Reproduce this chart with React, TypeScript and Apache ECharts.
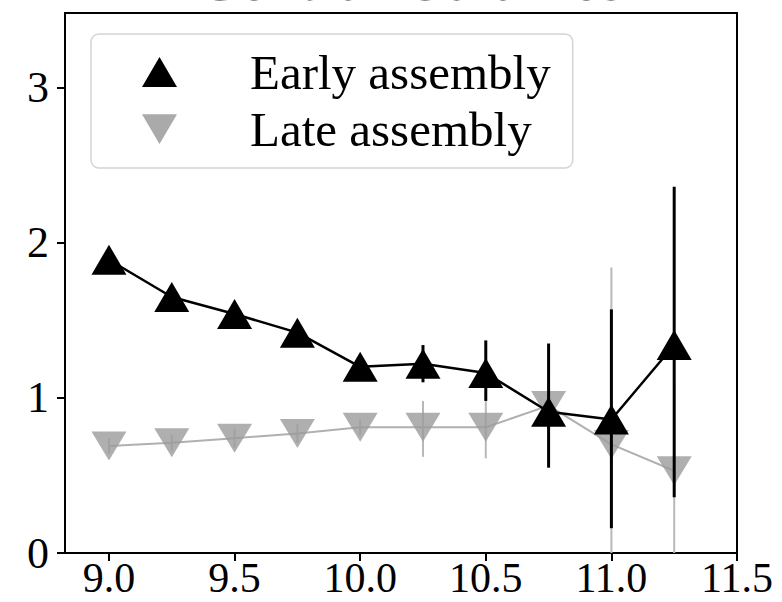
import React, { useEffect, useRef } from "react";
import * as echarts from "echarts";

const xValues = [9.0, 9.25, 9.5, 9.75, 10.0, 10.25, 10.5, 10.75, 11.0, 11.25];
const earlyY = [1.89, 1.65, 1.54, 1.42, 1.20, 1.22, 1.16, 0.91, 0.86, 1.34];
const earlyLo = [1.86, 1.62, 1.51, 1.39, 1.17, 1.10, 0.98, 0.55, 0.16, 0.36];
const earlyHi = [1.92, 1.68, 1.57, 1.45, 1.23, 1.34, 1.37, 1.35, 1.57, 2.36];
const lateY = [0.69, 0.71, 0.74, 0.77, 0.81, 0.81, 0.81, 0.95, 0.70, 0.53];
const lateLo = [0.64, 0.66, 0.68, 0.71, 0.76, 0.62, 0.61, 0.80, 0.0, 0.0];
const lateHi = [0.74, 0.76, 0.80, 0.83, 0.86, 0.98, 0.98, 1.10, 1.84, 1.10];
const xTicks = [9.0, 9.5, 10.0, 10.5, 11.0, 11.5];
const yTicks = [0, 1, 2, 3];
const titleText = "Central Galaxies";
const seriesNames = ["Early assembly", "Late assembly"];

const FONT = "'Liberation Serif', serif";
const DOWN_TRI = "path://M0,0 L2,0 L1,1.7 Z";

function errSeries(lo: number[], hi: number[], color: string, width: number, z: number) {
  return {
    type: "custom",
    silent: true,
    z,
    data: xValues.map((x, i) => [x, lo[i], hi[i]]),
    encode: { x: 0, y: [1, 2] },
    renderItem: (params: any, api: any) => {
      const p1 = api.coord([api.value(0), api.value(1)]);
      const p2 = api.coord([api.value(0), api.value(2)]);
      return {
        type: "line",
        shape: { x1: p1[0], y1: p1[1], x2: p2[0], y2: p2[1] },
        style: { stroke: color, lineWidth: width },
      };
    },
  };
}

export default function App() {
  const ref = useRef<HTMLDivElement>(null);
  useEffect(() => {
    if (!ref.current) return;
    const chart = echarts.init(ref.current, null, { renderer: "svg" });
    chart.setOption({
      animation: false,
      backgroundColor: "#fff",
      title: {
        text: titleText,
        left: 405,
        textAlign: "center",
        top: -59,
        textStyle: { fontFamily: FONT, fontSize: 64, fontWeight: "normal", color: "#000" },
      },
      grid: {
        left: 65,
        right: 45,
        top: 13,
        bottom: 49,
        show: true,
        borderColor: "#000",
        borderWidth: 2,
        backgroundColor: "transparent",
      },
      legend: {
        left: 91,
        top: 34,
        orient: "vertical",
        padding: [11, 22, 12, 51],
        itemWidth: 35,
        itemHeight: 30,
        itemGap: 3,
        borderColor: "#d4d4d4",
        borderWidth: 1.5,
        borderRadius: 8,
        backgroundColor: "rgba(255,255,255,0.85)",
        textStyle: {
          fontFamily: FONT,
          fontSize: 49,
          lineHeight: 54,
          color: "#000",
          padding: [0, 0, 0, 68],
        },
        data: [
          { name: seriesNames[0], icon: "triangle", itemStyle: { color: "#000" } },
          { name: seriesNames[1], icon: DOWN_TRI, itemStyle: { color: "#aaaaaa" } },
        ],
      },
      xAxis: {
        type: "value",
        min: 8.825,
        max: 11.5,
        splitLine: { show: false },
        axisLine: { show: true, onZero: false, lineStyle: { color: "#000", width: 2 } },
        axisTick: { show: true, customValues: xTicks, length: 8, lineStyle: { color: "#000", width: 2 } },
        axisLabel: {
          customValues: xTicks,
          formatter: (v: number) => v.toFixed(1),
          fontFamily: FONT,
          fontSize: 42,
          lineHeight: 34,
          color: "#000",
          margin: 8,
        },
      },
      yAxis: {
        type: "value",
        min: 0,
        max: 3.48,
        splitLine: { show: false },
        axisLine: { show: true, onZero: false, lineStyle: { color: "#000", width: 2 } },
        axisTick: { show: true, customValues: yTicks, length: 8, lineStyle: { color: "#000", width: 2 } },
        axisLabel: {
          customValues: yTicks,
          formatter: (v: number) => String(v),
          fontFamily: FONT,
          fontSize: 44,
          lineHeight: 34,
          color: "#000",
          margin: 16,
        },
      },
      series: [
        errSeries(lateLo, lateHi, "#b8b8b8", 2, 1),
        {
          name: seriesNames[1],
          type: "line",
          z: 2,
          data: xValues.map((x, i) => [x, lateY[i]]),
          symbol: DOWN_TRI,
          symbolSize: [35, 29],
          lineStyle: { color: "#b0b0b0", width: 2 },
          itemStyle: { color: "rgba(155,155,155,0.8)", borderWidth: 0 },
        },
        errSeries(earlyLo, earlyHi, "#000", 3, 3),
        {
          name: seriesNames[0],
          type: "line",
          z: 4,
          data: xValues.map((x, i) => [x, earlyY[i]]),
          symbol: "triangle",
          symbolSize: [35, 30],
          lineStyle: { color: "#000", width: 2.5 },
          itemStyle: { color: "#000", borderWidth: 0 },
        },
      ],
    });
    return () => chart.dispose();
  }, []);
  return <div ref={ref} style={{ position: "fixed", left: 0, top: 0, width: 782, height: 602 }} />;
}
